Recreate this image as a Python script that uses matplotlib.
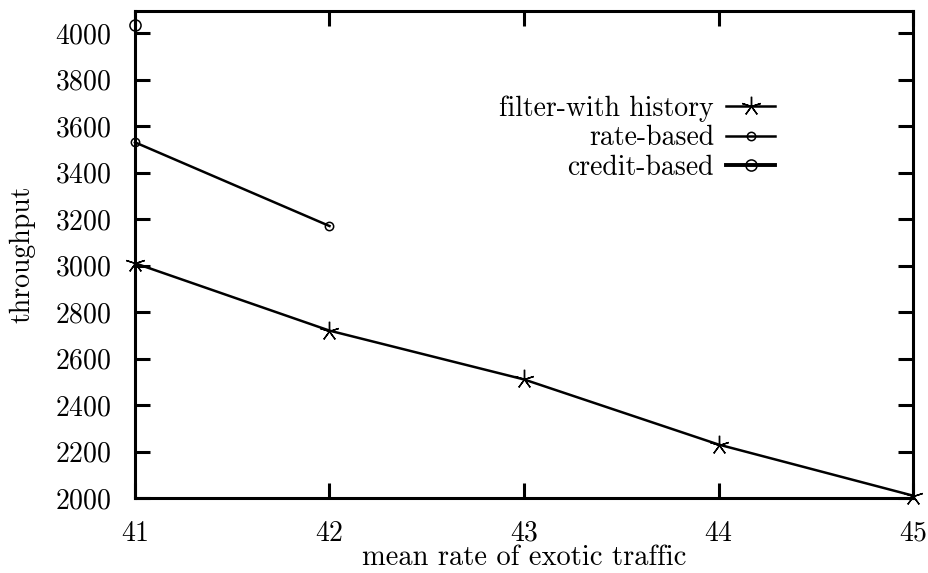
import matplotlib.pyplot as plt

plt.rcParams['font.family'] = ['cmr10', 'DejaVu Serif']
plt.rcParams['mathtext.fontset'] = 'cm'
plt.rcParams['axes.formatter.use_mathtext'] = True

# throughput vs. mean rate of exotic traffic
filter_x = [41, 42, 43, 44, 45]
filter_y = [3010, 2720, 2510, 2230, 2010]
rate_x = [41, 42]
rate_y = [3530, 3170]
credit_x = [41]
credit_y = [4035]

x_ticks = [41, 42, 43, 44, 45]
y_ticks = [2000, 2200, 2400, 2600, 2800, 3000, 3200, 3400, 3600, 3800, 4000]

fig = plt.figure(figsize=(9.29, 5.73), dpi=100)
ax = fig.add_axes([0.1453, 0.1309, 0.8375, 0.8499])

# five-armed asterisk for the filter curve
ax.plot(filter_x, filter_y, color='black', lw=1.8, marker=(5, 2, 0),
        ms=14, mew=1.0, label='filter-with history', clip_on=False)
ax.plot(rate_x, rate_y, color='black', lw=1.8, marker='o', ms=6,
        mfc='none', mew=1.1, label='rate-based', clip_on=False)
ax.plot(credit_x, credit_y, color='black', lw=2.8, marker='o', ms=8,
        mfc='none', mew=1.1, label='credit-based', clip_on=False)

ax.set_xlim(41, 45)
ax.set_ylim(2000, 4095)
ax.set_xticks(x_ticks)
ax.set_yticks(y_ticks)

for s in ax.spines.values():
    s.set_linewidth(2.2)
ax.tick_params(direction='in', length=11, width=2.2, labelsize=20,
               top=True, right=True, pad=17)
ax.tick_params(axis='x', pad=16)

ax.set_xlabel('mean rate of exotic traffic', fontsize=20.5, labelpad=-1)
ax.set_ylabel('throughput', fontsize=20, labelpad=14)

ax.legend(loc='upper right', bbox_to_anchor=(0.837, 0.85), frameon=False,
          markerfirst=False, fontsize=20, handlelength=1.75,
          handletextpad=0.45, labelspacing=0.12, borderaxespad=0)

fig.savefig('out.png', dpi=100)
